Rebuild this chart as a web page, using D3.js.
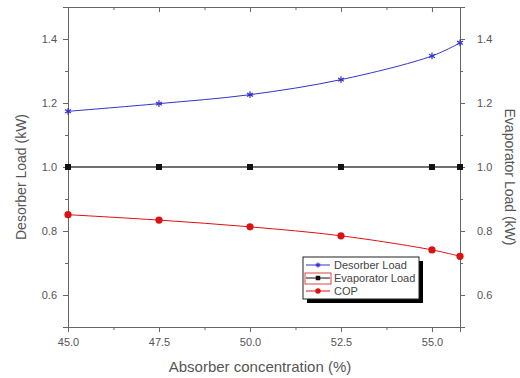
<html>
<head>
  <script src="https://d3js.org/d3.v7.min.js"></script>
  <style>
    body { margin: 0; background: #fff; }
    text { font-family: Arial, 'Liberation Sans', sans-serif; fill: #555; }
    .axis path, .axis line { stroke: #666; }
    .axis text { font-size: 11px; }
    .axis-label { font-size: 14px; text-anchor: middle; }
    .legend text { font-size: 11px; fill: #444; }
  </style>
</head>
<body>
  <svg id="chart" width="520" height="378"></svg>
  <script>
    // data
    const concentration = [45.0, 47.5, 50.0, 52.5, 55.0, 55.77];
    const desorberLoad = [1.174, 1.198, 1.226, 1.273, 1.347, 1.388];
    const evaporatorLoad = [1.0, 1.0, 1.0, 1.0, 1.0, 1.0];
    const cop = [0.851, 0.834, 0.813, 0.785, 0.741, 0.721];
    const xTicks = [45.0, 47.5, 50.0, 52.5, 55.0];
    const yTicks = [0.6, 0.8, 1.0, 1.2, 1.4];
    const seriesNames = ["Desorber Load", "Evaporator Load", "COP"];

    const svg = d3.select("svg#chart");
    const margin = { top: 7, right: 60, bottom: 51, left: 68 };
    const width = 520 - margin.left - margin.right;
    const height = 378 - margin.top - margin.bottom;

    const xScale = d3.scaleLinear().domain([45, 55.77]).range([0, width]);
    const yScale = d3.scaleLinear().domain([0.5, 1.5]).range([height, 0]);

    const g = svg.append("g")
      .attr("transform", "translate(" + margin.left + "," + margin.top + ")");

    // minor + major ticks
    const xMinor = d3.range(45, 55.8, 1.25);
    const yMinor = d3.range(0.5, 1.51, 0.1);

    g.append("g").attr("class", "axis")
      .attr("transform", "translate(0," + height + ")")
      .call(d3.axisBottom(xScale).tickValues(xMinor).tickSize(3).tickFormat(""));
    g.append("g").attr("class", "axis")
      .attr("transform", "translate(0," + height + ")")
      .call(d3.axisBottom(xScale).tickValues(xTicks).tickSize(5).tickPadding(6).tickFormat(d3.format(".1f")));

    g.append("g").attr("class", "axis")
      .call(d3.axisTop(xScale).tickValues(xMinor).tickSize(-3).tickFormat(""));
    g.append("g").attr("class", "axis")
      .call(d3.axisTop(xScale).tickValues(xTicks).tickSize(-5).tickFormat(""));

    g.append("g").attr("class", "axis")
      .call(d3.axisLeft(yScale).tickValues(yMinor).tickSize(3).tickFormat(""));
    g.append("g").attr("class", "axis")
      .call(d3.axisLeft(yScale).tickValues(yTicks).tickSize(5).tickPadding(6).tickFormat(d3.format(".1f")));

    g.append("g").attr("class", "axis")
      .attr("transform", "translate(" + width + ",0)")
      .call(d3.axisRight(yScale).tickValues(yMinor).tickSize(3).tickFormat(""));
    g.append("g").attr("class", "axis")
      .attr("transform", "translate(" + width + ",0)")
      .call(d3.axisRight(yScale).tickValues(yTicks).tickSize(5).tickPadding(12).tickFormat(d3.format(".1f")));

    // axis labels
    svg.append("text").attr("class", "axis-label")
      .attr("x", margin.left + width / 2 - 4).attr("y", 372)
      .style("font-size", "15px")
      .text("Absorber concentration (%)");
    svg.append("text").attr("class", "axis-label")
      .attr("transform", "translate(26,177) rotate(-90)")
      .text("Desorber Load (kW)");
    svg.append("text").attr("class", "axis-label")
      .attr("transform", "translate(505,177) rotate(90)")
      .text("Evaporator Load (kW)");

    const series = [
      { name: seriesNames[0], values: desorberLoad, color: "#3333cc", marker: "star" },
      { name: seriesNames[1], values: evaporatorLoad, color: "#111", marker: "square" },
      { name: seriesNames[2], values: cop, color: "#dd1111", marker: "circle" }
    ];

    const line = d3.line()
      .x(d => xScale(d[0]))
      .y(d => yScale(d[1]))
      .curve(d3.curveCatmullRom);

    function drawMarker(sel, type, color, k) {
      if (type === "star") {
        sel.append("path")
          .attr("d", d3.symbol(d3.symbolAsterisk, 32 * k * k)())
          .attr("stroke", color).attr("stroke-width", 1.2).attr("fill", "none");
      } else if (type === "square") {
        sel.append("rect").attr("x", -3 * k).attr("y", -3 * k).attr("width", 6 * k).attr("height", 6 * k)
          .attr("fill", color);
      } else {
        sel.append("circle").attr("r", 3.6 * k).attr("fill", color);
      }
    }

    series.forEach(s => {
      const pts = concentration.map((c, i) => [c, s.values[i]]);
      g.append("path")
        .datum(pts)
        .attr("fill", "none")
        .attr("stroke", s.color)
        .attr("stroke-opacity", s.marker === "square" ? 0.8 : 1)
        .attr("stroke-width", s.marker === "square" ? 1.3 : 1)
        .attr("d", line);
      g.selectAll(null)
        .data(pts)
        .enter()
        .append("g")
        .attr("transform", d => "translate(" + xScale(d[0]) + "," + yScale(d[1]) + ")")
        .each(function () { drawMarker(d3.select(this), s.marker, s.color, 1); });
    });

    // legend
    const legend = svg.append("g").attr("class", "legend")
      .attr("transform", "translate(303,257)");
    legend.append("rect").attr("x", 4).attr("y", 4).attr("width", 116).attr("height", 42)
      .attr("fill", "#000");
    legend.append("rect").attr("x", 0).attr("y", 0).attr("width", 116).attr("height", 42)
      .attr("fill", "#fff").attr("stroke", "#222").attr("stroke-width", 1);
    legend.append("rect").attr("x", 2).attr("y", 16).attr("width", 26).attr("height", 11)
      .attr("fill", "none").attr("stroke", "#d44").attr("stroke-width", 1);

    const items = legend.selectAll(".item")
      .data(series)
      .enter()
      .append("g")
      .attr("class", "item")
      .attr("transform", (d, i) => "translate(0," + (8 + i * 13) + ")");
    items.append("line").attr("x1", 3).attr("x2", 27).attr("y1", 0).attr("y2", 0)
      .attr("stroke", d => d.color);
    items.append("g").attr("transform", "translate(15,0)")
      .each(function (d) { drawMarker(d3.select(this), d.marker, d.color, 0.75); });
    items.append("text").attr("x", 31).attr("y", 4).text(d => d.name);
  </script>
</body>
</html>
